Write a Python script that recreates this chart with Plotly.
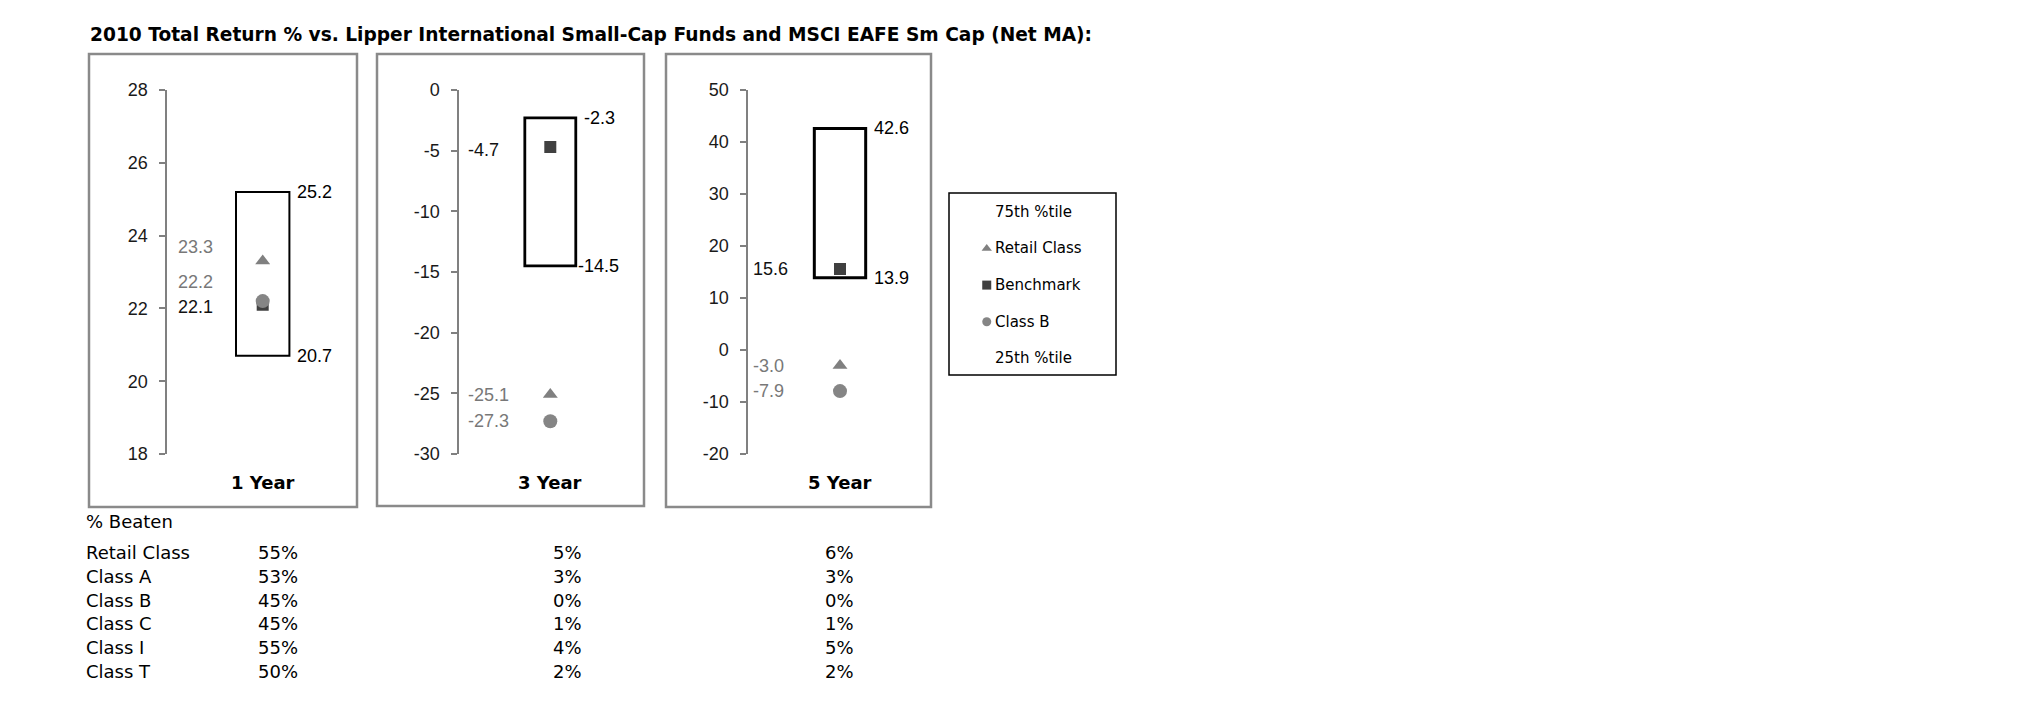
import plotly.graph_objects as go

W, H = 2025, 717

# ---------------- data ----------------
periods = ["1 Year", "3 Year", "5 Year"]
pct75 = [25.2, -2.3, 42.6]
pct25 = [20.7, -14.5, 13.9]
retail_class = [23.3, -25.1, -3.0]
benchmark = [22.1, -4.7, 15.6]
class_b = [22.2, -27.3, -7.9]
y_min = [18, -30, -20]
y_max = [28, 0, 50]
y_step = [2, 5, 10]

legend_names = ["75th %tile", "Retail Class", "Benchmark", "Class B", "25th %tile"]

table_classes = ["Retail Class", "Class A", "Class B", "Class C", "Class I", "Class T"]
beaten_1y = ["55%", "53%", "45%", "45%", "55%", "50%"]
beaten_3y = ["5%", "3%", "0%", "1%", "4%", "2%"]
beaten_5y = ["6%", "3%", "0%", "1%", "5%", "2%"]

title_text = "2010 Total Return % vs. Lipper International Small-Cap Funds and MSCI EAFE Sm Cap (Net MA):"

# ---------------- styling / layout ----------------
def xp(px):
    return px / W

def yp(py):
    return 1 - py / H

GRAY = "#808080"
LGRAY = "#787878"
DARK = "#404040"
AX_FONT = "Liberation Sans, Arial, sans-serif"
V_FONT = "DejaVu Sans, Verdana, sans-serif"

axis_px = [167.3, 459.3, 748.3]
center_off = [95.4, 91.0, 91.7]
box_hw = 0.28
box_lw = [2, 2.8, 3]
panel_px = [(89, 357, 54, 507), (377, 644, 54, 506), (666, 931, 54, 507)]
label_dx = [9, 7, 3]
label_dy = {(0, "retail"): 14, (0, "classb"): 19, (0, "bench"): -2, (1, "bench"): -3}
box_label_dx = {(1, 1): 0}

fig = go.Figure()
shapes = []
annotations = []

series = [
    ("retail", retail_class, "triangle-up", GRAY, 13, LGRAY),
    ("bench", benchmark, "square", DARK, 12, "#111111"),
    ("classb", class_b, "circle", "#858585", 14, LGRAY),
]


def fmt_tick(v):
    return str(int(v)).replace("\u2212", "-")


for i in range(3):
    n = "" if i == 0 else str(i + 1)
    xa, ya = "x" + n, "y" + n
    x0 = axis_px[i]
    x1 = x0 + 2 * center_off[i]
    tv = list(range(y_min[i], y_max[i] + 1, y_step[i]))
    fig.layout["xaxis" + n] = dict(domain=[xp(x0), xp(x1)], range=[-1, 1], visible=False,
                                   anchor=ya, fixedrange=True)
    fig.layout["yaxis" + n] = dict(domain=[yp(454), yp(90)], range=[y_min[i], y_max[i]],
                                   anchor=xa, showline=True, linecolor=GRAY, linewidth=2,
                                   ticks="outside", ticklen=6, tickwidth=2, tickcolor=GRAY,
                                   tickmode="array", tickvals=tv, ticktext=[fmt_tick(v) for v in tv],
                                   showgrid=False, zeroline=False, automargin=False,
                                   tickfont=dict(family=AX_FONT, size=18, color="#1a1a1a"),
                                   ticklabelstandoff=8, fixedrange=True)
    # box 25th-75th
    shapes.append(dict(type="rect", xref=xa, yref=ya, x0=-box_hw, x1=box_hw,
                       y0=pct25[i], y1=pct75[i], line=dict(color="black", width=box_lw[i]),
                       fillcolor="rgba(0,0,0,0)", layer="below"))
    for j, val in enumerate((pct75[i], pct25[i])):
        annotations.append(dict(xref=xa, yref=ya, x=box_hw, y=val, text=f"{val:.1f}",
                                showarrow=False, xanchor="left", yanchor="middle",
                                xshift=box_label_dx.get((i, j), 6),
                                font=dict(family=AX_FONT, size=18, color="black")))
    for key, vals, sym, col, size, lcol in series:
        fig.add_trace(go.Scatter(x=[0], y=[vals[i]], xaxis=xa, yaxis=ya, mode="markers",
                                 marker=dict(symbol=sym, color=col, size=size, line=dict(width=0)),
                                 showlegend=False, hoverinfo="skip"))
        annotations.append(dict(xref=xa, yref=ya, x=-1, y=vals[i], text=f"{vals[i]:.1f}",
                                showarrow=False, xanchor="left", yanchor="middle",
                                xshift=label_dx[i], yshift=label_dy.get((i, key), 0),
                                font=dict(family=AX_FONT, size=18, color=lcol)))
    # period label
    annotations.append(dict(xref=xa, yref="paper", x=0, y=yp(482), text="<b>" + periods[i] + "</b>",
                            showarrow=False, xanchor="center", yanchor="middle",
                            font=dict(family=V_FONT, size=18, color="black")))
    # panel border
    l, r, t, b = panel_px[i]
    shapes.append(dict(type="rect", xref="paper", yref="paper", x0=xp(l), x1=xp(r),
                       y0=yp(b), y1=yp(t), line=dict(color="#8a8a8a", width=2.5), layer="below"))

# ---------------- legend (drawn manually) ----------------
lg_l, lg_r, lg_t, lg_b = 949, 1116, 193, 375
shapes.append(dict(type="rect", xref="paper", yref="paper", x0=xp(lg_l), x1=xp(lg_r),
                   y0=yp(lg_b), y1=yp(lg_t), line=dict(color="black", width=1.5)))
fig.layout["xaxis4"] = dict(domain=[xp(lg_l), xp(lg_r)], range=[0, 1], visible=False, anchor="y4",
                            fixedrange=True)
fig.layout["yaxis4"] = dict(domain=[yp(lg_b), yp(lg_t)], range=[4.45, -0.51], visible=False,
                            anchor="x4", fixedrange=True)
legend_syms = {"Retail Class": ("triangle-up", GRAY), "Benchmark": ("square", DARK),
               "Class B": ("circle", "#858585")}
for k, name in enumerate(legend_names):
    if name in legend_syms:
        sym, col = legend_syms[name]
        fig.add_trace(go.Scatter(x=[0.226], y=[k], xaxis="x4", yaxis="y4", mode="markers",
                                 marker=dict(symbol=sym, color=col, size=9), showlegend=False,
                                 hoverinfo="skip"))
        annotations.append(dict(xref="x4", yref="y4", x=0.265, y=k, text=name, showarrow=False,
                                xanchor="left", yanchor="middle",
                                font=dict(family=V_FONT, size=15, color="black")))
    else:
        annotations.append(dict(xref="x4", yref="y4", x=0.503, y=k, text=name, showarrow=False,
                                xanchor="center", yanchor="middle",
                                font=dict(family=V_FONT, size=15, color="black")))

# ---------------- title ----------------
annotations.append(dict(xref="paper", yref="paper", x=xp(88), y=yp(34), text="<b>" + title_text + "</b>",
                        showarrow=False, xanchor="left", yanchor="middle",
                        font=dict(family=V_FONT, size=18.6, color="black")))

# ---------------- table ----------------
tbl_font = dict(family=V_FONT, size=18, color="black")
annotations.append(dict(xref="paper", yref="paper", x=xp(84), y=yp(521.5), text="% Beaten",
                        showarrow=False, xanchor="left", yanchor="middle", font=tbl_font))
row0, row_h = 552.5, 23.8
col_right = [300, 584, 856]
for r, cls in enumerate(table_classes):
    yy = yp(row0 + r * row_h)
    annotations.append(dict(xref="paper", yref="paper", x=xp(84), y=yy, text=cls, showarrow=False,
                            xanchor="left", yanchor="middle", font=tbl_font))
    for c, col in enumerate([beaten_1y, beaten_3y, beaten_5y]):
        annotations.append(dict(xref="paper", yref="paper", x=xp(col_right[c]), y=yy, text=col[r],
                                showarrow=False, xanchor="right", yanchor="middle", font=tbl_font))

fig.update_layout(width=W, height=H, margin=dict(l=0, r=0, t=0, b=0, pad=0),
                  paper_bgcolor="white", plot_bgcolor="rgba(0,0,0,0)",
                  shapes=shapes, annotations=annotations, showlegend=False)

fig.write_html("out.html", config={"displayModeBar": False},
               post_script="document.body.style.margin='0';document.body.style.overflow='hidden';")
